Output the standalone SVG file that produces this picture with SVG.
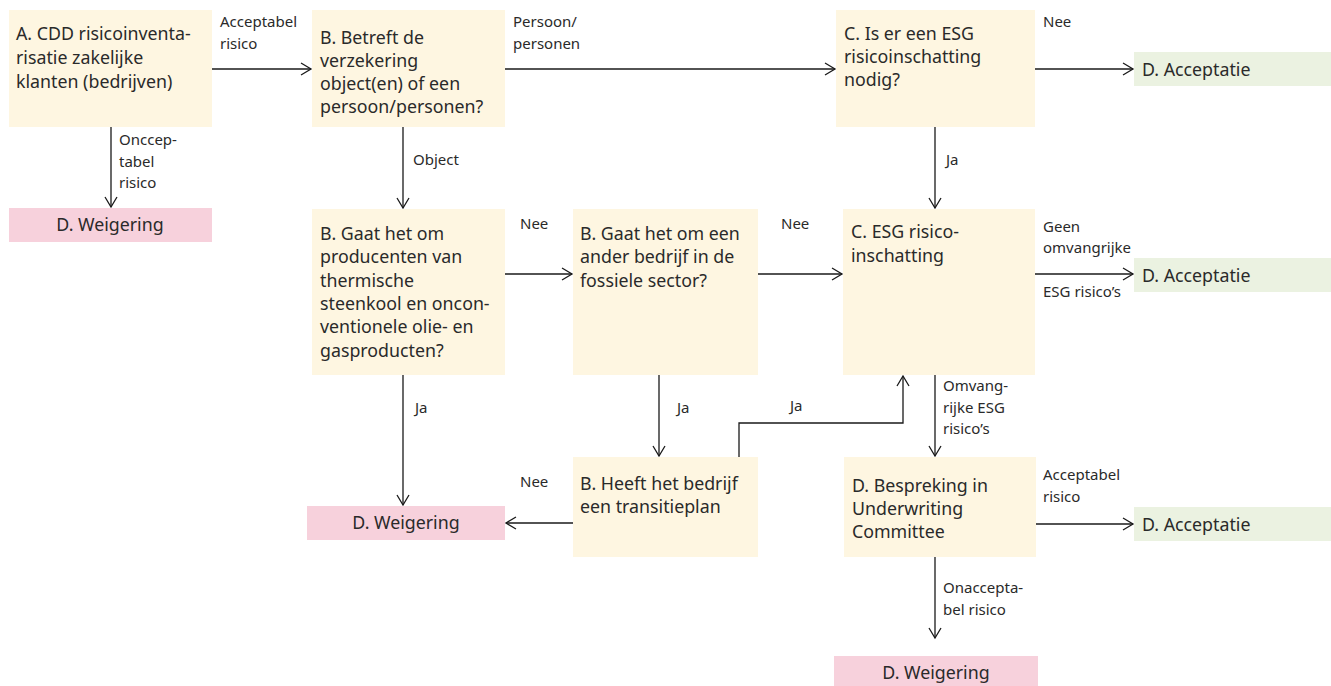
<svg xmlns="http://www.w3.org/2000/svg" width="1331" height="686" viewBox="0 0 1331 686">
<defs>
<style>
.box{fill:#FEF6E1}
.rej{fill:#F7D1DC}
.acc{fill:#EBF2E1}
.t{font-family:"Noto Sans",sans-serif;font-size:17.8px;fill:#2a2a2a}
.tc{font-family:"Noto Sans",sans-serif;font-size:17.8px;fill:#2a2a2a;text-anchor:middle}
.l{font-family:"Noto Sans",sans-serif;font-size:15px;fill:#2a2a2a}
.c{fill:none;stroke:#1a1a1a;stroke-width:1.3}
</style>
<marker id="ah" markerUnits="userSpaceOnUse" markerWidth="14" markerHeight="16" refX="11" refY="7" orient="auto">
<path d="M1,1 L11,7 L1,13" fill="none" stroke="#1a1a1a" stroke-width="1.3"/>
</marker>
</defs>
<rect width="1331" height="686" fill="#fff"/>

<g id="connectors">
<path class="c" d="M212,69 H311" marker-end="url(#ah)"/>
<path class="c" d="M111,127 V207" marker-end="url(#ah)"/>
<path class="c" d="M505,69 H835" marker-end="url(#ah)"/>
<path class="c" d="M1035,69 H1133" marker-end="url(#ah)"/>
<path class="c" d="M403,127 V208" marker-end="url(#ah)"/>
<path class="c" d="M935,127 V208" marker-end="url(#ah)"/>
<path class="c" d="M505,274 H572" marker-end="url(#ah)"/>
<path class="c" d="M758,274 H842" marker-end="url(#ah)"/>
<path class="c" d="M1035,274 H1133" marker-end="url(#ah)"/>
<path class="c" d="M403,375 V505" marker-end="url(#ah)"/>
<path class="c" d="M659,375 V456" marker-end="url(#ah)"/>
<path class="c" d="M739,457 V423 H903 V376" marker-end="url(#ah)"/>
<path class="c" d="M935,375 V456" marker-end="url(#ah)"/>
<path class="c" d="M573,523 H506" marker-end="url(#ah)"/>
<path class="c" d="M1036,524 H1133" marker-end="url(#ah)"/>
<path class="c" d="M935,557 V638" marker-end="url(#ah)"/>
<text class="l" x="220" y="27">Acceptabel</text>
<text class="l" x="220" y="49">risico</text>
<text class="l" x="119" y="145">Onccep-</text>
<text class="l" x="119" y="167">tabel</text>
<text class="l" x="119" y="188">risico</text>
<text class="l" x="513" y="27">Persoon/</text>
<text class="l" x="513" y="49">personen</text>
<text class="l" x="1043" y="27">Nee</text>
<text class="l" x="413" y="165">Object</text>
<text class="l" x="946" y="165">Ja</text>
<text class="l" x="520" y="229">Nee</text>
<text class="l" x="781" y="229">Nee</text>
<text class="l" x="1043" y="232">Geen</text>
<text class="l" x="1043" y="253">omvangrijke</text>
<text class="l" x="1043" y="297">ESG risico’s</text>
<text class="l" x="415" y="413">Ja</text>
<text class="l" x="677" y="413">Ja</text>
<text class="l" x="790" y="411">Ja</text>
<text class="l" x="943" y="391">Omvang-</text>
<text class="l" x="943" y="413">rijke ESG</text>
<text class="l" x="943" y="434">risico’s</text>
<text class="l" x="520" y="487">Nee</text>
<text class="l" x="1043" y="480">Acceptabel</text>
<text class="l" x="1043" y="502">risico</text>
<text class="l" x="943" y="593">Onaccepta-</text>
<text class="l" x="943" y="615">bel risico</text>
</g>

<g id="nodeA">
<rect class="box" x="9" y="10" width="203" height="117"/>
<text class="t" x="16" y="40">A. CDD risicoinventa-</text>
<text class="t" x="16" y="64">risatie zakelijke</text>
<text class="t" x="16" y="88">klanten (bedrijven)</text>
</g>
<g id="weigering1">
<rect class="rej" x="9" y="208" width="203" height="34"/>
<text class="tc" x="110" y="231">D. Weigering</text>
</g>
<g id="nodeB1">
<rect class="box" x="312" y="10" width="193" height="117"/>
<text class="t" x="320" y="44">B. Betreft de</text>
<text class="t" x="320" y="67">verzekering</text>
<text class="t" x="320" y="90">object(en) of een</text>
<text class="t" x="320" y="113">persoon/personen?</text>
</g>
<g id="nodeC1">
<rect class="box" x="836" y="10" width="199" height="117"/>
<text class="t" x="844" y="40">C. Is er een ESG</text>
<text class="t" x="844" y="63">risicoinschatting</text>
<text class="t" x="844" y="86">nodig?</text>
</g>
<g id="acceptatie1">
<rect class="acc" x="1134" y="52" width="197" height="34"/>
<text class="t" x="1142" y="76">D. Acceptatie</text>
</g>
<g id="nodeB2">
<rect class="box" x="312" y="209" width="193" height="166"/>
<text class="t" x="320" y="240">B. Gaat het om</text>
<text class="t" x="320" y="263">producenten van</text>
<text class="t" x="320" y="287">thermische</text>
<text class="t" x="320" y="310">steenkool en oncon-</text>
<text class="t" x="320" y="333">ventionele olie- en</text>
<text class="t" x="320" y="357">gasproducten?</text>
</g>
<g id="nodeB3">
<rect class="box" x="573" y="209" width="185" height="166"/>
<text class="t" x="580" y="240">B. Gaat het om een</text>
<text class="t" x="580" y="263">ander bedrijf in de</text>
<text class="t" x="580" y="287">fossiele sector?</text>
</g>
<g id="nodeC2">
<rect class="box" x="843" y="209" width="192" height="166"/>
<text class="t" x="851" y="238">C. ESG risico-</text>
<text class="t" x="851" y="262">inschatting</text>
</g>
<g id="acceptatie2">
<rect class="acc" x="1134" y="258" width="197" height="34"/>
<text class="t" x="1142" y="282">D. Acceptatie</text>
</g>
<g id="nodeB4">
<rect class="box" x="573" y="457" width="185" height="100"/>
<text class="t" x="580" y="490">B. Heeft het bedrijf</text>
<text class="t" x="580" y="513">een transitieplan</text>
</g>
<g id="weigering2">
<rect class="rej" x="307" y="506" width="198" height="34"/>
<text class="tc" x="406" y="529">D. Weigering</text>
</g>
<g id="nodeD">
<rect class="box" x="844" y="457" width="192" height="100"/>
<text class="t" x="852" y="492">D. Bespreking in</text>
<text class="t" x="852" y="515">Underwriting</text>
<text class="t" x="852" y="538">Committee</text>
</g>
<g id="acceptatie3">
<rect class="acc" x="1134" y="507" width="197" height="34"/>
<text class="t" x="1142" y="531">D. Acceptatie</text>
</g>
<g id="weigering3">
<rect class="rej" x="834" y="656" width="204" height="30"/>
<text class="tc" x="936" y="679">D. Weigering</text>
</g>
</svg>
